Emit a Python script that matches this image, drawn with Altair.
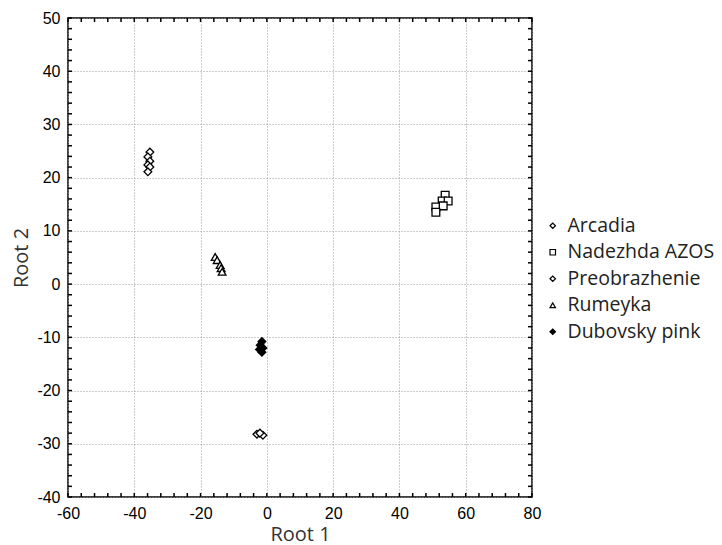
import altair as alt
import pandas as pd

# ---- data ----
varieties = ["Arcadia", "Nadezhda AZOS", "Preobrazhenie", "Rumeyka", "Dubovsky pink"]

arcadia_x = [-35.3, -35.9, -35.3, -35.9, -35.3, -35.9]
arcadia_y = [24.8, 23.9, 23.1, 22.4, 22.0, 21.1]

nadezhda_x = [53.8, 52.9, 54.7, 51.0, 53.2, 51.0]
nadezhda_y = [16.7, 15.6, 15.6, 14.5, 14.7, 13.5]

preob_x = [-3.0, -1.2, -2.1]
preob_y = [-28.2, -28.4, -28.0]

rumeyka_x = [-15.6, -15.0, -14.1, -13.8, -13.5]
rumeyka_y = [5.1, 4.5, 3.6, 3.0, 2.3]

dubovsky_x = [-1.5, -2.0, -1.2, -2.2, -1.5]
dubovsky_y = [-10.8, -11.5, -12.0, -12.3, -12.8]

x_major = [-60, -40, -20, 0, 20, 40, 60, 80]
y_major = [-40, -30, -20, -10, 0, 10, 20, 30, 40, 50]
x_minor = list(range(-60, 81, 4))
y_minor = list(range(-40, 51, 2))

shapes = ["diamond", "square", "diamond", "triangle-up", "diamond"]
fills = ["white", "white", "white", "white", "black"]
strokes = ["black", "black", "black", "black", "black"]

series = [
    (varieties[0], arcadia_x, arcadia_y),
    (varieties[1], nadezhda_x, nadezhda_y),
    (varieties[2], preob_x, preob_y),
    (varieties[3], rumeyka_x, rumeyka_y),
    (varieties[4], dubovsky_x, dubovsky_y),
]
rows = []
for name, xs_, ys_ in series:
    for a, b in zip(xs_, ys_):
        rows.append({"variety": name, "x": a, "y": b})
df = pd.DataFrame(rows)
df_xminor = pd.DataFrame({"x": x_minor})
df_yminor = pd.DataFrame({"y": y_minor})

W, H = 464, 479
TL = 4  # minor tick length (px)
xs = alt.Scale(domain=[-60, 80], nice=False, zero=False)
ys = alt.Scale(domain=[-40, 50], nice=False, zero=False)

label_font = "Liberation Sans"
title_font = "Open Sans"

def make_legend():
    return alt.Legend(title=None, symbolStrokeColor="black", symbolStrokeWidth=1.2)

points = alt.Chart(df).mark_point(strokeWidth=1.3, opacity=1, fillOpacity=1, size=60).encode(
    x=alt.X("x:Q", scale=xs, axis=alt.Axis(
        values=x_major, title="Root 1", grid=True, gridDash=[1, 2], gridColor="#9a9a9a",
        ticks=False, domain=False, labelFont=label_font, labelFontSize=16, labelColor="black",
        labelExpr="toString(datum.value)",
        labelPadding=8, titleFont=title_font, titleFontSize=20, titleFontWeight="normal",
        titleColor="#333333", titlePadding=3, labelFlush=False)),
    y=alt.Y("y:Q", scale=ys, axis=alt.Axis(
        values=y_major, title="Root 2", grid=True, gridDash=[1, 2], gridColor="#9a9a9a",
        ticks=False, domain=False, labelFont=label_font, labelFontSize=16, labelColor="black",
        labelExpr="toString(datum.value)",
        labelPadding=8, titleFont=title_font, titleFontSize=20, titleFontWeight="normal",
        titleColor="#333333", titlePadding=5, labelFlush=False)),
    shape=alt.Shape("variety:N", scale=alt.Scale(domain=varieties, range=shapes),
                    sort=varieties, legend=make_legend()),
    fill=alt.Fill("variety:N", scale=alt.Scale(domain=varieties, range=fills),
                  sort=varieties, legend=make_legend()),
    stroke=alt.Stroke("variety:N", scale=alt.Scale(domain=varieties, range=strokes),
                      sort=varieties, legend=make_legend()),
)

xt = alt.Chart(df_xminor)
yt = alt.Chart(df_yminor)
tick_style = dict(color="black", strokeWidth=1.5)
ticks_bottom = xt.mark_rule(**tick_style).encode(
    x=alt.X("x:Q", scale=xs), y=alt.value(H), y2=alt.value(H - TL))
ticks_top = xt.mark_rule(**tick_style).encode(
    x=alt.X("x:Q", scale=xs), y=alt.value(0), y2=alt.value(TL))
ticks_left = yt.mark_rule(**tick_style).encode(
    y=alt.Y("y:Q", scale=ys), x=alt.value(0), x2=alt.value(TL))
ticks_right = yt.mark_rule(**tick_style).encode(
    y=alt.Y("y:Q", scale=ys), x=alt.value(W), x2=alt.value(W - TL))

chart = alt.layer(points, ticks_bottom, ticks_top, ticks_left, ticks_right).properties(
    width=W, height=H,
    autosize=alt.AutoSizeParams(type="none"),
    padding={"left": 60, "top": 10, "right": 182, "bottom": 48},
).configure_view(
    stroke="black", strokeWidth=1.5
).configure_legend(
    orient="none", legendX=475, legendY=198, padding=0,
    labelFont=title_font, labelFontSize=19.5, labelColor="#222222", labelLimit=300,
    symbolSize=30, symbolStrokeColor="black", symbolStrokeWidth=1.2,
    rowPadding=5.5, labelOffset=5
)

chart.save("out.html", embed_options={"renderer": "svg", "actions": False})
